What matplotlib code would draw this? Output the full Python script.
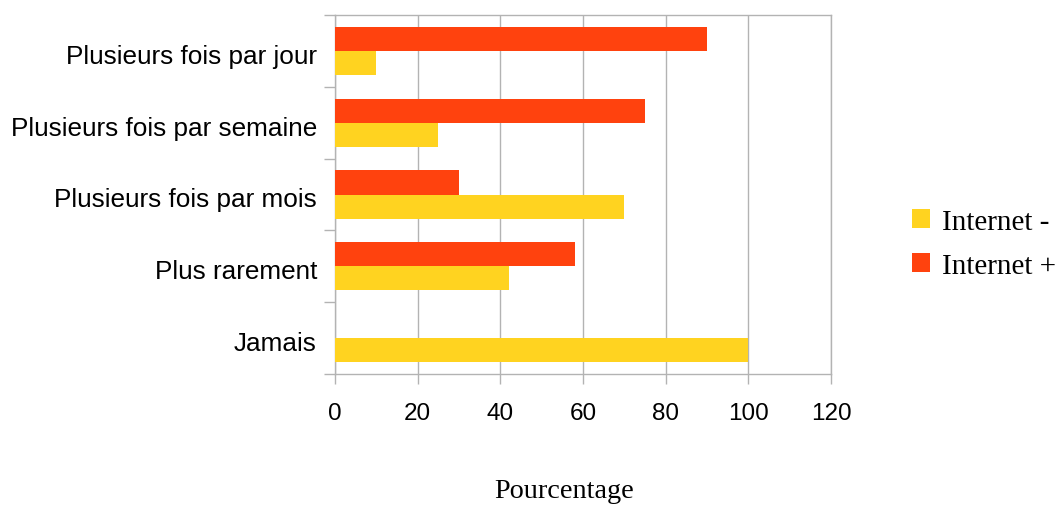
import matplotlib
matplotlib.use("Agg")
import matplotlib.pyplot as plt
import matplotlib.transforms as mtransforms
from matplotlib.patches import Patch
import numpy as np

categories = ["Plusieurs fois par jour", "Plusieurs fois par semaine",
              "Plusieurs fois par mois", "Plus rarement", "Jamais"]
internet_moins = [10, 25, 70, 42, 100]
internet_plus = [90, 75, 30, 58, 0]
series_names = ["Internet -", "Internet +"]
x_ticks = [0, 20, 40, 60, 80, 100, 120]
x_label = "Pourcentage"

col_moins = "#ffd320"
col_plus = "#ff420e"
grid_col = "#b3b3b3"

fig = plt.figure(figsize=(10.59, 5.06), dpi=100)
ax = fig.add_axes([335/1059, 1-375/506, (831-335)/1059, (375-16)/506])

y = np.arange(len(categories))
h = 0.335
ax.barh(y - h/2, internet_plus, height=h, color=col_plus, zorder=3)
ax.barh(y + h/2, internet_moins, height=h, color=col_moins, zorder=3)

ax.set_xlim(0, 120)
ax.set_ylim(len(categories) - 0.5, -0.5)
ax.set_xticks(x_ticks)
ax.set_xticklabels([str(v) for v in x_ticks], fontfamily="Liberation Sans", fontsize=17.5)
ax.set_yticks(y)
ax.set_yticklabels(categories, fontfamily="Liberation Sans", fontsize=18.8)
ax.set_yticks(np.arange(-0.5, len(categories), 1.0), minor=True)
ax.tick_params(axis="y", which="major", length=0, pad=13)
ax.tick_params(axis="y", which="minor", length=8, width=1, color=grid_col, direction="out")
ax.tick_params(axis="x", which="major", length=7.5, width=1, color=grid_col, direction="out", pad=13)

offset = mtransforms.ScaledTranslation(0, -2.5/100, fig.dpi_scale_trans)
for lab in ax.get_yticklabels():
    lab.set_transform(lab.get_transform() + offset)

ax.grid(axis="x", color=grid_col, linewidth=1, zorder=0)
for s in ax.spines.values():
    s.set_color(grid_col)
    s.set_linewidth(1)

fig.text(564/1059, 1-492/506, x_label, ha="center", va="center",
         fontfamily="Liberation Serif", fontsize=20.3)

handles = [Patch(facecolor=col_moins, edgecolor="none"),
           Patch(facecolor=col_plus, edgecolor="none")]
fig.legend(handles, series_names, loc="center left",
           bbox_to_anchor=(912/1059, 1-245/506), frameon=False,
           prop={"family": "Liberation Serif", "size": 21},
           handlelength=0.62, handleheight=0.62, handletextpad=0.4,
           labelspacing=0.62, borderpad=0, borderaxespad=0)

fig.savefig("out.png", dpi=100)
